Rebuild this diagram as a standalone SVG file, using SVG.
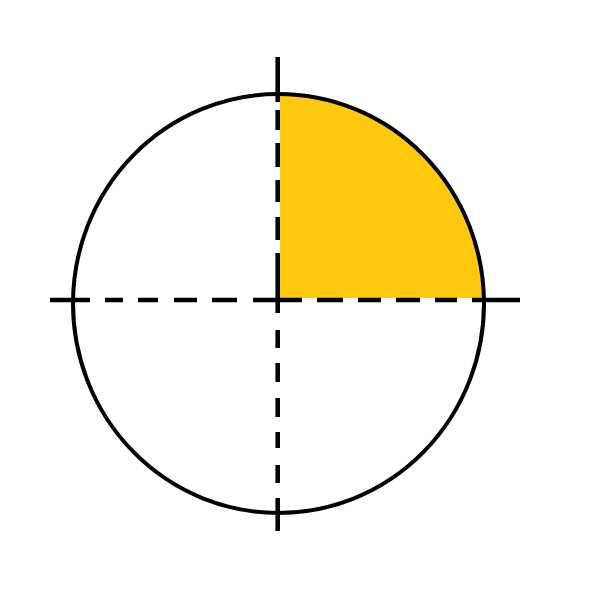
<svg xmlns="http://www.w3.org/2000/svg" width="600" height="600" viewBox="0 0 600 600">
<style>
.fill{fill:#FEC80F;stroke:none}
.outline{fill:none;stroke:#000;stroke-width:4}
.axis{fill:none;stroke:#000;stroke-width:4.6;stroke-linecap:butt}
</style>
<rect width="600" height="600" fill="#fff"/>
<g id="quadrant">
<path class="fill" d="M280,298 L280,94 A205.5 209.5 0 0 1 484,298 Z"/>
</g>
<g id="circle">
<ellipse class="outline" cx="278.5" cy="303.5" rx="205.5" ry="209.5"/>
</g>
<g id="axes">
<path class="axis" d="M50,300H90M105,300H123M138,300H158M174,300H197M212,300H237M253,300H302M317,300H343M358,300H381M396,300H420M435,300H457M472,300H520"/>
<path class="axis" d="M277.7,57V102M277.7,110V130M277.7,143V167M277.7,180V202M277.7,217V240M277.7,253V313M277.7,330V348M277.7,363V382M277.7,398V417M277.7,432V448M277.7,465V483M277.7,498V531"/>
</g>
</svg>
